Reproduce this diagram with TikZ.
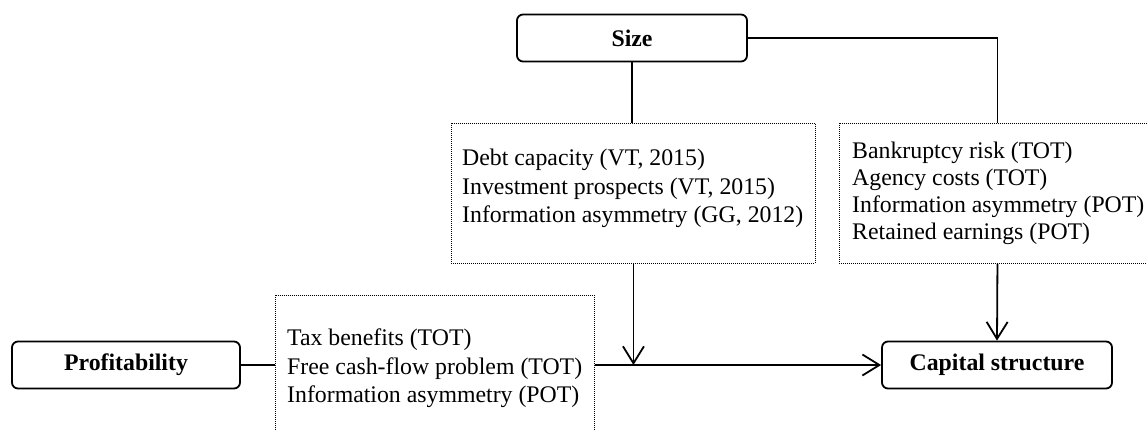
\documentclass[tikz,border=0pt]{standalone}
\usepackage{fontspec}
\setmainfont{Liberation Serif}
\usetikzlibrary{arrows.meta}
\begin{document}
\begin{tikzpicture}[x=1pt,y=-1pt,
  mainbox/.style={draw,line width=1.8pt,rounded corners=6pt,minimum width=230pt,minimum height=47pt,inner sep=0pt,font=\fontsize{23.8}{28}\selectfont\bfseries},
  dotbox/.style={draw,line width=0.9pt,dash pattern=on 1pt off 1pt,anchor=north west,inner sep=0pt},
  txt/.style={anchor=north west,align=left,inner sep=0pt,font=\fontsize{23.8}{28.5}\selectfont},
  conn/.style={line width=1.8pt},
  arr/.style={line width=1.8pt,-{Straight Barb[length=17pt,width=21pt,line width=1.8pt]}}]
\useasboundingbox (0,0) rectangle (1147,429);
% main boxes
\node[mainbox] (size) at (632,38) {Size};
\node[mainbox,minimum width=228pt] (prof) at (126,365) {Profitability};
\node[mainbox] (cap) at (997,365) {Capital structure};
% dotted boxes
\node[dotbox,minimum width=364pt,minimum height=140pt] (mid) at (451,123) {};
\node[dotbox,minimum width=316pt,minimum height=140pt] (rbox) at (839,123) {};
\node[dotbox,minimum width=319pt,minimum height=150pt] (lbox) at (275,295) {};
% texts
\node[txt] (midtxt) at (462,149) {Debt capacity (VT, 2015)\\Investment prospects (VT, 2015)\\Information asymmetry (GG, 2012)};
\node[txt,font=\fontsize{23.8}{27}\selectfont] (rtxt) at (852,142) {Bankruptcy risk (TOT)\\Agency costs (TOT)\\Information asymmetry (POT)\\Retained earnings (POT)};
\node[txt] (ltxt) at (287,329) {Tax benefits (TOT)\\Free cash-flow problem (TOT)\\Information asymmetry (POT)};
% connectors
\draw[conn] (size.south) -- (size.south |- mid.north);
\draw[conn] (size.east) -| (rbox.north);
\draw[arr] (mid.south) -- (mid.south |- cap.west);
\draw[arr] (rbox.south) -- (cap.north);
\draw[conn] (prof.east) -- (prof.east -| lbox.west);
\draw[arr] (lbox.east |- cap.west) -- (cap.west);
\end{tikzpicture}
\end{document}
